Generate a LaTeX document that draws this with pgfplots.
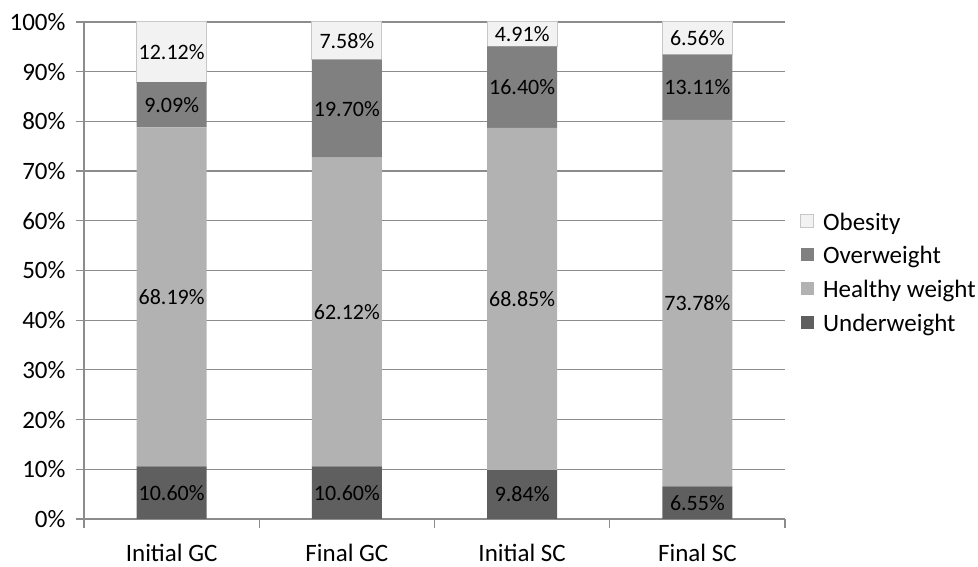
\documentclass[border=0pt]{standalone}
\usepackage{pgfplots}
\pgfplotsset{compat=1.18}
\usepackage{fontspec}
\setmainfont{Carlito}

\definecolor{cUnder}{HTML}{5F5F5F}
\definecolor{cHealthy}{HTML}{B2B2B2}
\definecolor{cOver}{HTML}{808080}
\definecolor{cObese}{HTML}{F2F2F2}
\definecolor{cGrid}{HTML}{8C8C8C}

% one table per weight class, x = group index
\pgfplotstableread{
x  v
0  10.60
1  10.60
2  9.84
3  6.55
}\underweight
\pgfplotstableread{
x  v
0  68.19
1  62.12
2  68.85
3  73.78
}\healthy
\pgfplotstableread{
x  v
0  9.09
1  19.70
2  16.40
3  13.11
}\overweight
\pgfplotstableread{
x  v
0  12.12
1  7.58
2  4.91
3  6.56
}\obesity

\begin{document}
\begin{tikzpicture}[font=\fontsize{25}{30}\selectfont]
\path[use as bounding box] (-84pt,-48pt) rectangle (894pt,519pt);
\begin{axis}[
  at={(0,0)}, anchor=south west,
  scale only axis,
  width=701pt, height=497pt,
  ybar stacked,
  bar width=0.4,
  xmin=-0.5, xmax=3.5,
  ymin=0, ymax=100,
  ytick={0,10,...,100},
  yticklabel={\pgfmathprintnumber{\tick}\%},
  xtick={0,1,2,3},
  xticklabels={Initial GC, Final GC, Initial SC, Final SC},
  minor xtick={-0.5,0.5,1.5,2.5,3.5},
  major x tick style={draw=none},
  minor tick length=9pt,
  major tick length=8pt,
  tick align=outside,
  tick style={cGrid, line width=1.2pt},
  axis lines*=left,
  axis line style={cGrid, line width=1.2pt},
  ymajorgrids,
  grid style={cGrid, line width=1.2pt},
  yticklabel style={xshift=-7pt},
  xticklabel style={yshift=-14pt},
  /pgf/number format/assume math mode=true,
  visualization depends on={rawy \as \rawy},
  nodes near coords={\pgfmathprintnumber[fixed,fixed zerofill,precision=2]{\rawy}\%},
  nodes near coords style={anchor=center, text=black,
    font=\fontsize{22}{26}\selectfont},
  legend style={draw=none, fill=none, at={(1.017,0.495)}, anchor=west,
    row sep=11pt, font=\fontsize{25}{30}\selectfont,
    /tikz/every odd column/.append style={column sep=7pt}},
  legend cell align=left,
  reverse legend,
  legend image code/.code={\path[#1] (0pt,-5pt) rectangle (13pt,8pt);},
]
\addplot[fill=cUnder, draw=none] table[x=x, y=v] {\underweight};
\addplot[fill=cHealthy, draw=none] table[x=x, y=v] {\healthy};
\addplot[fill=cOver, draw=none] table[x=x, y=v] {\overweight};
\addplot[fill=cObese, draw=black!22, line width=1pt] table[x=x, y=v] {\obesity};
\legend{Underweight, Healthy weight, Overweight, Obesity}
\end{axis}
\end{tikzpicture}
\end{document}
